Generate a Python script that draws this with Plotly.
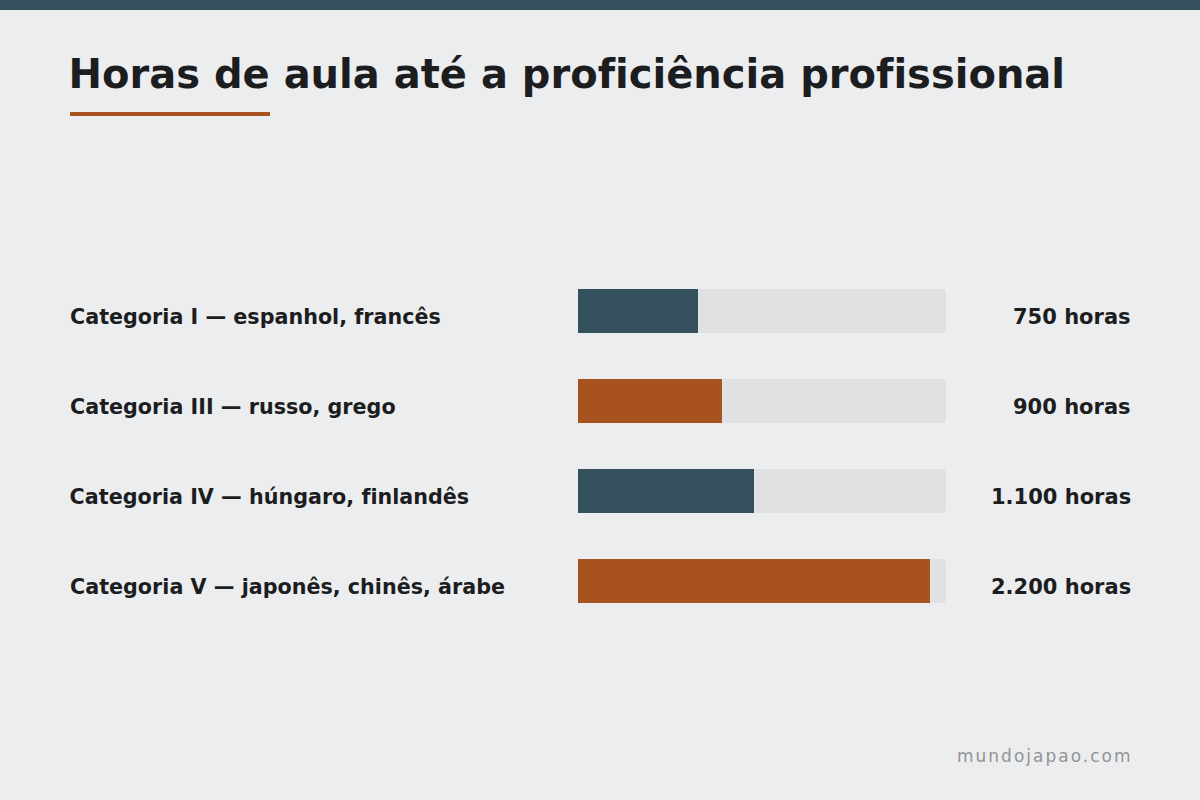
import plotly.graph_objects as go

categories = [
    "Categoria I — espanhol, francês",
    "Categoria III — russo, grego",
    "Categoria IV — húngaro, finlandês",
    "Categoria V — japonês, chinês, árabe",
]
hours = [750, 900, 1100, 2200]
track_max = 2300
bar_colors = ["#33505C", "#A8521F", "#33505C", "#A8521F"]

W, H = 1200, 800
BG = "#ECEDEF"
FONT = "DejaVu Sans"

def fmt(v):
    return f"{v:,}".replace(",", ".") + " horas"

ypos = list(range(len(categories)))

fig = go.Figure()
fig.add_trace(go.Bar(
    x=[track_max] * len(categories), y=ypos, orientation="h",
    marker=dict(color="#E0E1E3", cornerradius=4, line=dict(width=0)),
    width=0.49, hoverinfo="skip", showlegend=False,
))
fig.add_trace(go.Bar(
    x=hours, y=ypos, orientation="h",
    marker=dict(color=bar_colors, cornerradius=4, line=dict(width=0)),
    width=0.49, showlegend=False,
))

annotations = []
for i, (c, v) in enumerate(zip(categories, hours)):
    annotations.append(dict(
        text=f"<b>{c}</b>", x=70 / W, xref="paper", y=i, yref="y",
        xanchor="left", yanchor="middle", showarrow=False,
        xshift=-2, yshift=-6,
        font=dict(family=FONT, size=20.7, color="#1C1D1F"),
    ))
    annotations.append(dict(
        text=f"<b>{fmt(v)}</b>", x=1131 / W, xref="paper", y=i, yref="y",
        xanchor="right", yanchor="middle", showarrow=False,
        xshift=2, yshift=-6,
        font=dict(family=FONT, size=21, color="#1C1D1F"),
    ))

annotations.append(dict(
    text="<b>Horas de aula até a proficiência profissional</b>",
    x=70 / W, xref="paper", y=1 - 74 / H, yref="paper",
    xanchor="left", yanchor="middle", showarrow=False, xshift=-2,
    font=dict(family=FONT, size=40, color="#1C1D1F"),
))
annotations.append(dict(
    text='<span style="letter-spacing:2px">mundojapao.com</span>',
    x=1132 / W, xref="paper", y=1 - 756 / H, yref="paper",
    xanchor="right", yanchor="middle", showarrow=False, xshift=2,
    font=dict(family=FONT, size=17, color="#929496"),
))

fig.update_layout(
    width=W, height=H,
    margin=dict(l=0, r=0, t=0, b=0),
    paper_bgcolor=BG, plot_bgcolor=BG,
    barmode="overlay",
    xaxis=dict(domain=[578 / W, 946 / W], range=[0, track_max],
               visible=False, fixedrange=True),
    yaxis=dict(domain=[1 - 626 / H, 1 - 266 / H], range=[3.5, -0.5],
               visible=False, fixedrange=True),
    annotations=annotations,
    shapes=[
        dict(type="rect", xref="paper", yref="paper", x0=0, x1=1,
             y0=1 - 10 / H, y1=1, fillcolor="#33505C", line=dict(width=0), layer="above"),
        dict(type="rect", xref="paper", yref="paper", x0=70 / W, x1=270 / W,
             y0=1 - 116 / H, y1=1 - 112 / H, fillcolor="#A8521F", line=dict(width=0)),
    ],
)

post = (
    "document.body.style.margin='0';"
    "document.body.style.background='#ECEDEF';"
    "var st=document.createElement('style');"
    "st.textContent='text,tspan{font-variant-ligatures:none !important;font-feature-settings:\"liga\" 0,\"clig\" 0 !important;}';"
    "document.head.appendChild(st);"
)

fig.write_html("out.html", config={"displayModeBar": False}, post_script=post)
